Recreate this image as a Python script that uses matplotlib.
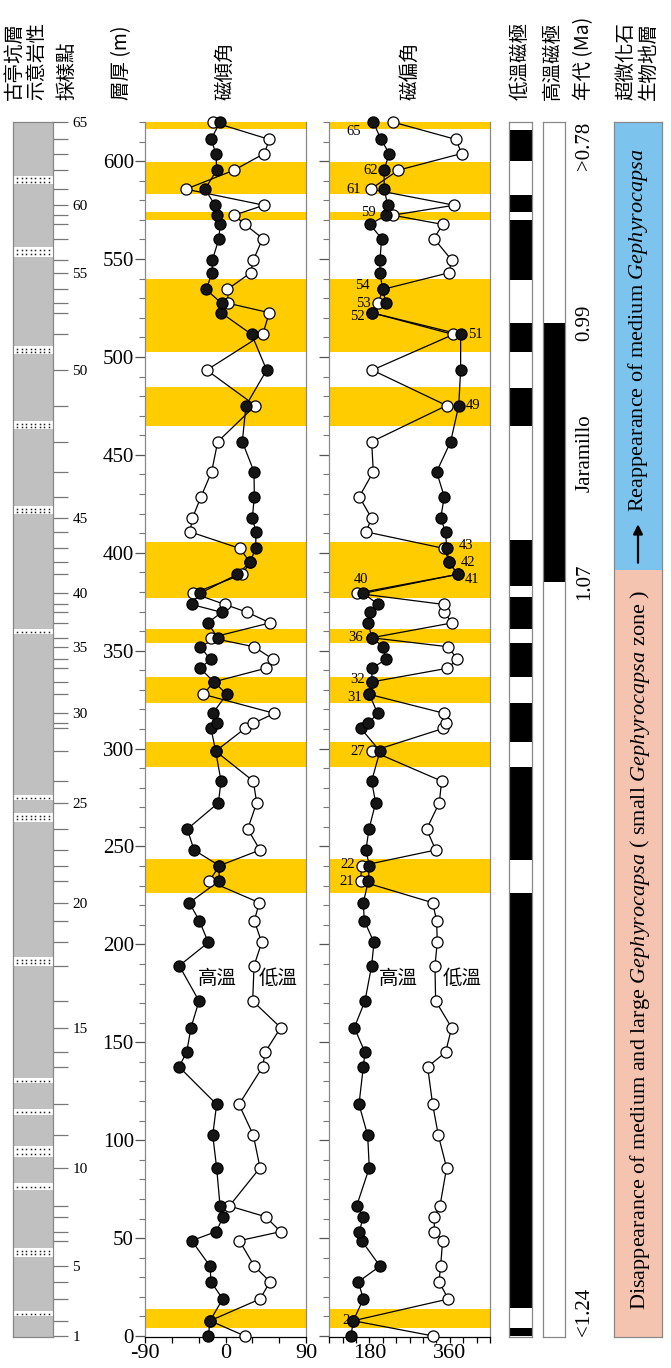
import matplotlib.pyplot as plt
import matplotlib.ticker as mticker
import numpy as np

plt.rcParams['font.family'] = ['Liberation Serif', 'Noto Sans CJK TC']
plt.rcParams['mathtext.fontset'] = 'custom'
plt.rcParams['mathtext.rm'] = 'Liberation Serif'
plt.rcParams['mathtext.it'] = 'Liberation Serif:italic'

# 採樣點 1..65 的層厚 (m)
depth = [0.0, 7.8, 18.9, 27.7, 35.7, 48.7, 53.3, 60.9, 66.4, 85.9,
         102.6, 118.3, 137.5, 144.9, 157.5, 171.1, 189.1, 201.0, 212.1, 221.3,
         232.3, 240.2, 248.2, 258.9, 272.3, 283.4, 298.7, 310.3, 312.9, 318.0,
         327.7, 334.1, 341.0, 345.5, 352.0, 356.6, 364.2, 369.6, 373.6, 379.3,
         389.0, 395.1, 402.2, 410.7, 417.6, 428.6, 441.4, 456.7, 475.2, 493.3,
         511.5, 522.6, 527.4, 534.5, 543.0, 549.5, 560.5, 567.7, 572.4, 577.5,
         585.7, 595.4, 603.9, 611.1, 620.0]

# 磁傾角 (高溫 = 實心, 低溫 = 空心)
inc_high = [-19.2, -17.3, -3.1, -16.2, -17.3, -37.8, -10.6, -2.4, -6.1, -9.9,
            -14.3, -9.9, -52.0, -43.4, -38.6, -29.6, -51.7, -19.2, -29.3, -40.5,
            -7.3, -6.9, -35.2, -42.7, -8.0, -5.0, -11.0, -16.2, -9.9, -14.3,
            1.3, -12.9, -28.5, -16.6, -28.5, -8.7, -19.9, -4.3, -37.8, -28.5,
            13.2, 27.4, 33.7, 34.1, 30.0, 32.2, 31.9, 18.8, 22.9, 46.0,
            29.3, -5.0, -4.3, -21.8, -14.7, -14.7, -7.3, -6.1, -9.9, -11.7,
            -22.9, -9.9, -10.6, -16.2, -6.1]
inc_low = [21.8, -17.3, 38.6, 49.8, 32.2, 15.5, 61.7, 44.9, 4.3, 38.6,
           31.1, 15.1, 41.6, 44.2, 61.7, 30.4, 31.9, 40.5, 32.2, 37.8,
           -18.1, -6.9, 38.6, 24.8, 34.9, 31.1, -11.0, 21.8, 31.1, 54.6,
           -24.8, -12.9, 44.9, 53.5, 31.9, -16.6, 49.8, 24.4, -0.6, -36.0,
           18.8, 27.4, 16.2, -39.7, -37.1, -27.4, -15.5, -8.7, 33.3, -21.0,
           41.6, 49.0, 3.2, 2.0, 28.2, 31.1, 41.6, 21.8, 9.5, 43.0,
           -44.2, 9.5, 43.4, 49.0, -14.3]

# 磁偏角
dec_high = [138.5, 143.8, 166.2, 155.0, 203.5, 162.4, 157.2, 166.2, 151.2, 179.6,
            175.9, 156.5, 166.2, 169.9, 146.0, 169.9, 184.8, 190.1, 168.4, 166.2,
            177.4, 179.6, 172.1, 178.9, 193.8, 184.8, 203.5, 160.9, 177.4, 198.3,
            179.6, 186.3, 184.8, 216.9, 211.0, 184.8, 177.4, 181.1, 199.8, 166.2,
            377.5, 358.8, 352.8, 350.6, 339.4, 347.6, 330.4, 361.8, 380.0, 384.2,
            384.2, 184.8, 216.9, 209.5, 203.5, 203.5, 207.2, 181.1, 216.9, 220.7,
            213.2, 212.5, 224.4, 205.7, 188.6]
dec_low = [323.0, 143.8, 356.6, 335.7, 339.4, 343.9, 325.2, 325.2, 337.9, 352.8,
           334.2, 321.5, 310.3, 350.6, 364.0, 328.2, 326.7, 331.9, 330.4, 321.5,
           160.2, 162.4, 328.2, 308.0, 336.4, 341.6, 186.3, 345.4, 350.6, 347.6,
           179.6, 186.3, 354.3, 376.7, 356.6, 184.8, 365.5, 346.9, 346.9, 151.2,
           377.5, 358.8, 347.6, 172.1, 184.8, 157.2, 188.6, 184.8, 352.8, 186.3,
           367.8, 184.8, 199.8, 209.5, 358.1, 364.0, 324.5, 343.9, 231.9, 370.0,
           182.6, 244.6, 386.4, 373.7, 231.9]

# 黃色區間 (m)
yellow_bands = [(3.9, 13.6), (226.4, 243.5), (290.8, 303.2), (323.4, 336.7),
                (354.1, 360.9), (376.8, 405.7), (464.8, 484.5), (502.7, 539.7),
                (570.0, 573.9), (583.2, 599.7), (616.4, 620.0)]

# 低溫磁極 黑色區間 (m)
lowT_black = [(0, 4.1), (14.3, 226.3), (243.1, 290.6), (303.4, 323.3),
              (336.6, 353.9), (361.1, 377.4), (383.0, 406.5), (464.8, 484.3),
              (502.7, 517.2), (539.3, 570.0), (574.2, 582.7), (600.1, 616.0)]
# 高溫磁極 黑色區間 (m)
highT_black = [(385.1, 517.2)]

# 砂岩夾層 (m, 點的行數)
sand_beds = [(10.2, 12.8, 1), (40.3, 44.9, 2), (74.6, 78.1, 1), (91.4, 97.0, 2),
             (112.9, 116.0, 1), (129.2, 131.7, 1), (189.0, 193.5, 2), (262.5, 267.0, 2),
             (273.7, 276.3, 1), (358.5, 361.0, 1), (419.7, 423.8, 2), (463.2, 467.2, 2),
             (501.5, 505.5, 2), (551.2, 556.0, 2), (588.3, 592.4, 2)]

age_labels = [('>0.78', 620.0, 'top'), ('0.99', 517.2, 'center'),
              ('Jaramillo', 451.0, 'center'), ('1.07', 385.1, 'center'),
              ('<1.24', 0.0, 'bottom')]
bio_boundary = 391.2

# 標號: sample -> (dx, dy) in points
dec_labels = {65: (-9, -7, 'right'), 62: (-4.5, 0, 'right'), 61: (-7, 0, 'right'),
              59: (-7, 2, 'right'), 54: (-9, 2.5, 'right'), 53: (-5.5, 0, 'right'),
              52: (-5, -3, 'right'), 51: (5.5, 0, 'left'), 49: (5, 0, 'left'),
              43: (8.5, 2.5, 'left'), 42: (8, 0, 'left'), 41: (5, -3.5, 'left'),
              40: (3.5, 10, 'center'), 36: (-6, 0, 'right'), 32: (-5.5, 2, 'right'),
              31: (-5, -2.5, 'right'), 27: (-5.5, 0, 'right'), 22: (-5, 1, 'right'),
              21: (-5, -0.5, 'right'), 2: (-3, 0, 'right')}

W, H = 671, 1368
TOP, BOT = 122, 1337
YLIM = (-0.5, 620)
EDGE = '#888888'
YELLOW = '#FFCC00'
CJK = ['Noto Sans CJK TC', 'Liberation Serif']


def box(x0, x1):
    return [x0 / W, 1 - BOT / H, (x1 - x0) / W, (BOT - TOP) / H]


def frame(ax, color=EDGE):
    for s in ax.spines.values():
        s.set_color(color)
        s.set_linewidth(0.9)


fig = plt.figure(figsize=(W / 100, H / 100), dpi=100)

# 岩性柱
ax_l = fig.add_axes(box(13, 53))
ax_l.set_facecolor('#c0c0c0')
ax_l.set_xlim(0, 1)
ax_l.set_ylim(YLIM)
dot_x = np.linspace(0.1, 0.9, 8)
for a, b, rows in sand_beds:
    ax_l.axhspan(a, b, color='white', lw=0)
    mid = (a + b) / 2
    ys = [mid] if rows == 1 else [mid - (b - a) * 0.2, mid + (b - a) * 0.2]
    for yy in ys:
        ax_l.plot(dot_x, [yy] * len(dot_x), ls='none', marker='s', ms=1.1,
                  color='#222222', mew=0)
frame(ax_l)
ax_l.set_xticks([])
ax_l.yaxis.tick_right()
ax_l.set_yticks(depth)
ax_l.set_yticklabels([str(i + 1) if (i + 1) % 5 == 0 or i == 0 else ''
                      for i in range(len(depth))])
ax_l.tick_params(axis='y', length=11, width=0.9, color='#777777',
                 labelsize=11, pad=3)

# 磁傾角 / 磁偏角
ax_i = fig.add_axes(box(145, 306))
ax_d = fig.add_axes(box(329.3, 490))
for ax, hi, lo, xl in [(ax_i, inc_high, inc_low, (-90, 90)),
                       (ax_d, dec_high, dec_low, (90, 450))]:
    ax.set_xlim(xl)
    ax.set_ylim(YLIM)
    for a, b in yellow_bands:
        ax.axhspan(a, b, color=YELLOW, lw=0, zorder=0)
    ax.plot(lo, depth, color='k', lw=0.9, zorder=2, clip_on=False)
    ax.plot(hi, depth, color='k', lw=0.9, zorder=2, clip_on=False)
    ax.plot(lo, depth, ls='none', marker='o', ms=8, mfc='white', mec='k',
            mew=0.9, zorder=3, clip_on=False)
    ax.plot(hi, depth, ls='none', marker='o', ms=8, mfc='#151515', mec='k',
            mew=0.9, zorder=4, clip_on=False)
    frame(ax)
    ax.spines['top'].set_visible(False)
    ax.spines['bottom'].set_color('k')
    ax.yaxis.set_major_locator(mticker.MultipleLocator(50))
    ax.yaxis.set_minor_locator(mticker.MultipleLocator(10))
    ax.xaxis.set_minor_locator(mticker.MultipleLocator(30))
    ax.tick_params(axis='y', which='major', length=7, width=0.9, color='#555555',
                   labelsize=15, pad=1)
    ax.tick_params(axis='y', which='minor', length=4, width=0.8, color='#777777')
    ax.tick_params(axis='x', which='both', length=4, width=0.9, labelsize=16, pad=1)

ax_i.set_xticks([-90, 0, 90])
ax_i.set_xticklabels(['-90', '0', '90'])
ax_d.set_xticks([180, 360])
ax_d.set_xticklabels(['180', '360'])
ax_d.tick_params(axis='y', which='both', labelleft=False)

for ax, xs in [(ax_i, (-9.5, 58.7)), (ax_d, (244, 388))]:
    ax.text(xs[0], 182.8, '高溫', ha='center', va='center', fontsize=14, family=CJK)
    ax.text(xs[1], 182.8, '低溫', ha='center', va='center', fontsize=14, family=CJK)

for s, (dx, dy, ha) in dec_labels.items():
    i = s - 1
    if ha == 'right':
        x = min(dec_high[i], dec_low[i])
    elif ha == 'left':
        x = max(dec_high[i], dec_low[i])
    else:
        x = dec_low[i]
    ax_d.annotate(str(s), (x, depth[i]), xytext=(dx, dy), textcoords='offset points',
                  ha=ha, va='center', fontsize=10.5, zorder=5, annotation_clip=False)

# 磁極柱
for x0, x1, segs in [(509, 532, lowT_black), (543, 565, highT_black)]:
    ax = fig.add_axes(box(x0, x1))
    ax.set_xlim(0, 1)
    ax.set_ylim(YLIM)
    for a, b in segs:
        ax.axhspan(a, b, color='black', lw=0)
    frame(ax)
    ax.set_xticks([])
    ax.set_yticks([])

# 年代
ax_a = fig.add_axes(box(568, 602))
ax_a.set_xlim(0, 1)
ax_a.set_ylim(YLIM)
ax_a.axis('off')
for txt, yy, va in age_labels:
    ax_a.text(0.5, yy, txt, rotation=90, ha='center', va=va, fontsize=15)

# 超微化石生物地層
ax_b = fig.add_axes(box(614, 662))
ax_b.set_xlim(0, 1)
ax_b.set_ylim(YLIM)
ax_b.axhspan(bio_boundary, YLIM[1], color='#7cc4ee', lw=0)
ax_b.axhspan(YLIM[0], bio_boundary, color='#f5c4b0', lw=0)
frame(ax_b)
ax_b.set_xticks([])
ax_b.set_yticks([])
ax_b.annotate('', xy=(0.5, 416), xytext=(0.5, 393.5),
              arrowprops=dict(arrowstyle='-|>', color='k', lw=1.6, mutation_scale=14))
ax_b.text(0.5, 421, r'Reappearance of medium $\mathit{Gephyrocapsa}$',
          rotation=90, ha='center', va='bottom', fontsize=16)
ax_b.text(0.55, 197, r'Disappearance of medium and large $\mathit{Gephyrocapsa}$'
          r' ( small $\mathit{Gephyrocapsa}$ zone )',
          rotation=90, ha='center', va='center', fontsize=16)

# 標題
headers = [(26, '古亭坑層\n示意岩性'), (67, '採樣點'), (122, '層厚 (m)'),
           (225, '磁傾角'), (410, '磁偏角'), (520, '低溫磁極'), (552, '高溫磁極'),
           (584, '年代 (Ma)'), (637, '超微化石\n生物地層')]
for x, txt in headers:
    fig.text(x / W, 1 - 100 / H, txt, rotation=90, ha='center', va='bottom',
             fontsize=14, family=CJK, linespacing=1.1)

fig.savefig('out.png', dpi=100)
